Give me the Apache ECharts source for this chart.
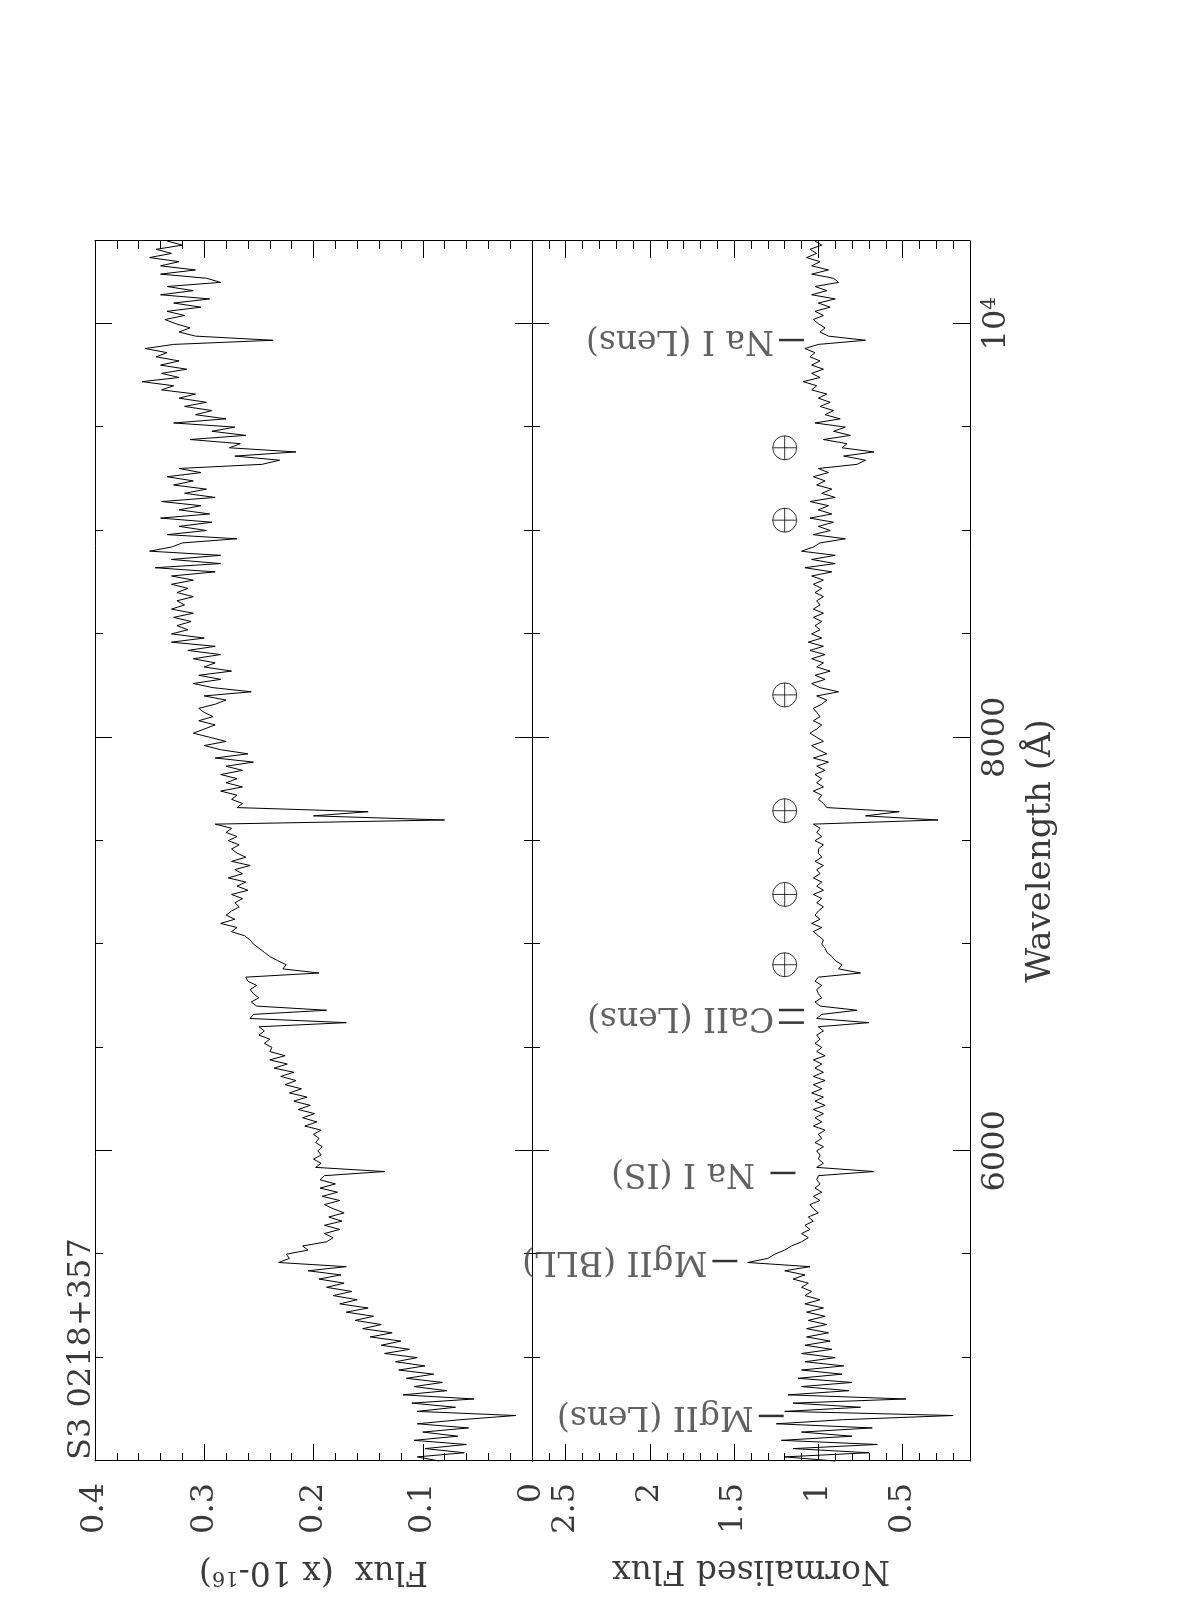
<!DOCTYPE html>
<html>
<head>
<meta charset="utf-8">
<title>S3 0218+357</title>
<script src="https://cdn.jsdelivr.net/npm/echarts@6/dist/echarts.min.js"></script>
<style>
    html, body { margin: 0; padding: 0; width: 1196px; height: 1600px; overflow: hidden; background: #fff; }
    /* the figure is drawn landscape and turned a quarter turn, like the printed page */
    #spectrum-chart {
        position: absolute; left: 0; top: 0;
        width: 1600px; height: 1196px;
        transform-origin: 0 0;
        transform: translate(0, 1600px) rotate(-90deg);
    }
</style>
</head>
<body>
<div id="spectrum-chart"></div>
<script>
// wavelength sampling of the spectrum (Angstrom)
var LAMBDA_START = 4500;
var LAMBDA_STEP = 20;
var WAVELENGTH_MIN = 4500;
var WAVELENGTH_MAX = 10400;

// flux in units of 1e-16, one value per sample from 4500 A
var fluxValues = [
    0.085, 0.105, 0.062, 0.098, 0.060, 0.108, 0.068, 0.100, 0.058, 0.105,
    0.065, 0.015, 0.105, 0.070, 0.110, 0.053, 0.118, 0.078, 0.108, 0.082,
    0.115, 0.090, 0.122, 0.098, 0.125, 0.105, 0.135, 0.112, 0.138, 0.120,
    0.148, 0.128, 0.155, 0.138, 0.162, 0.145, 0.170, 0.150, 0.176, 0.160,
    0.182, 0.165, 0.188, 0.172, 0.195, 0.175, 0.205, 0.170, 0.232, 0.222,
    0.225, 0.205, 0.210, 0.188, 0.182, 0.190, 0.176, 0.190, 0.174, 0.186,
    0.172, 0.182, 0.190, 0.176, 0.192, 0.178, 0.194, 0.180, 0.194, 0.190,
    0.135, 0.198, 0.193, 0.200, 0.193, 0.196, 0.192, 0.198, 0.195, 0.200,
    0.193, 0.208, 0.197, 0.210, 0.199, 0.214, 0.203, 0.218, 0.206, 0.222,
    0.211, 0.226, 0.216, 0.230, 0.218, 0.236, 0.224, 0.240, 0.226, 0.240,
    0.238, 0.245, 0.240, 0.250, 0.245, 0.250, 0.170, 0.258, 0.255, 0.188,
    0.252, 0.257, 0.250, 0.255, 0.258, 0.252, 0.260, 0.262, 0.195, 0.228,
    0.225, 0.233, 0.240, 0.245, 0.250, 0.255, 0.258, 0.263, 0.275, 0.270,
    0.285, 0.272, 0.280, 0.275, 0.268, 0.272, 0.265, 0.275, 0.260, 0.270,
    0.262, 0.278, 0.265, 0.272, 0.258, 0.275, 0.262, 0.270, 0.275, 0.268,
    0.278, 0.270, 0.280, 0.275, 0.290, 0.080, 0.200, 0.150, 0.270, 0.265,
    0.275, 0.270, 0.285, 0.265, 0.280, 0.270, 0.285, 0.265, 0.280, 0.255,
    0.290, 0.260, 0.285, 0.300, 0.280, 0.295, 0.310, 0.300, 0.290, 0.305,
    0.292, 0.300, 0.305, 0.290, 0.280, 0.300, 0.257, 0.292, 0.310, 0.285,
    0.305, 0.275, 0.300, 0.290, 0.310, 0.285, 0.315, 0.290, 0.330, 0.300,
    0.330, 0.315, 0.325, 0.312, 0.328, 0.310, 0.330, 0.318, 0.325, 0.310,
    0.325, 0.315, 0.330, 0.310, 0.330, 0.290, 0.345, 0.285, 0.330, 0.285,
    0.350, 0.330, 0.320, 0.270, 0.334, 0.298, 0.323, 0.293, 0.340, 0.295,
    0.323, 0.303, 0.339, 0.290, 0.318, 0.298, 0.328, 0.310, 0.334, 0.303,
    0.323, 0.247, 0.231, 0.272, 0.216, 0.277, 0.267, 0.313, 0.262, 0.293,
    0.272, 0.328, 0.280, 0.308, 0.293, 0.318, 0.298, 0.323, 0.308, 0.339,
    0.328, 0.357, 0.323, 0.339, 0.316, 0.340, 0.323, 0.344, 0.334, 0.354,
    0.328, 0.237, 0.308, 0.323, 0.313, 0.326, 0.336, 0.318, 0.334, 0.303,
    0.328, 0.295, 0.340, 0.310, 0.334, 0.285, 0.298, 0.340, 0.308, 0.340,
    0.323, 0.350, 0.330, 0.344, 0.320, 0.334
];

// normalised flux, same sampling
var normFluxValues = [
    0.90, 1.20, 0.70, 1.15, 0.65, 1.22, 0.80, 1.10, 0.68, 1.25,
    0.85, 0.20, 1.20, 0.75, 1.15, 0.48, 1.18, 0.82, 1.10, 0.80,
    1.12, 0.86, 1.10, 0.85, 1.08, 0.90, 1.10, 0.92, 1.08, 0.93,
    1.07, 0.94, 1.07, 0.95, 1.06, 0.96, 1.07, 0.97, 1.08, 0.99,
    1.08, 1.04, 1.10, 1.06, 1.15, 1.08, 1.20, 1.05, 1.42, 1.30,
    1.26, 1.20, 1.16, 1.10, 1.06, 1.10, 1.05, 1.08, 1.03, 1.06,
    1.00, 1.03, 1.05, 0.99, 1.03, 0.98, 1.02, 0.99, 1.01, 1.00,
    0.67, 1.01, 0.97, 1.00, 0.99, 1.01, 0.97, 1.02, 0.98, 1.00,
    0.96, 1.03, 0.98, 1.02, 0.97, 1.03, 0.96, 1.02, 0.97, 1.04,
    0.98, 1.03, 0.96, 1.03, 0.97, 1.02, 0.98, 1.03, 0.96, 1.01,
    0.98, 1.02, 0.99, 1.01, 0.97, 1.00, 0.70, 1.01, 0.98, 0.77,
    0.99, 1.02, 0.98, 1.00, 1.01, 0.98, 1.02, 1.00, 0.75, 0.88,
    0.86, 0.90, 0.92, 0.95, 0.96, 0.98, 0.97, 1.00, 1.03, 0.98,
    1.04, 0.99, 1.02, 1.00, 0.97, 1.01, 0.98, 1.03, 0.97, 1.01,
    0.98, 1.03, 0.99, 1.01, 0.97, 1.02, 0.98, 1.00, 1.00, 0.97,
    1.02, 0.98, 1.01, 0.99, 1.03, 0.29, 0.72, 0.52, 0.95, 0.97,
    1.00, 0.98, 1.03, 0.97, 1.01, 0.98, 1.02, 0.96, 1.01, 0.94,
    1.03, 0.95, 1.00, 1.04, 0.97, 1.01, 1.05, 1.01, 0.98, 1.03,
    0.99, 1.01, 1.03, 0.98, 0.95, 1.01, 0.88, 0.99, 1.04, 0.96,
    1.02, 0.93, 1.01, 0.97, 1.04, 0.96, 1.05, 0.97, 1.06, 0.98,
    1.04, 0.99, 1.02, 0.98, 1.03, 0.97, 1.03, 0.99, 1.01, 0.97,
    1.02, 0.98, 1.03, 0.97, 1.04, 0.92, 1.08, 0.90, 1.04, 0.90,
    1.10, 1.03, 0.99, 0.84, 1.03, 0.93, 1.00, 0.91, 1.05, 0.92,
    1.00, 0.94, 1.05, 0.90, 0.98, 0.92, 1.01, 0.96, 1.03, 0.94,
    1.00, 0.77, 0.72, 0.85, 0.67, 0.86, 0.83, 0.97, 0.81, 0.91,
    0.84, 1.02, 0.87, 0.96, 0.91, 0.99, 0.93, 1.00, 0.95, 1.04,
    1.01, 1.09, 0.99, 1.04, 0.97, 1.04, 0.99, 1.05, 1.02, 1.08,
    1.00, 0.72, 0.94, 0.99, 0.96, 1.00, 1.03, 0.97, 1.02, 0.93,
    1.00, 0.90, 1.04, 0.95, 1.02, 0.88, 0.91, 1.04, 0.94, 1.04,
    0.99, 1.07, 1.01, 1.05, 0.98, 1.02
];

// tick labels
var wavelengthMajorTicks = [6000, 8000, 10000];
var normMajorTicks = [0.5, 1, 1.5, 2, 2.5];

// identified lines in the normalised panel
var lineNames = ['MgII (Lens)', 'MgII (BLL)', ' Na I (IS)', 'CaII (Lens)', 'Na I (Lens)'];
var lineWavelengths = [4718, 5467, 5893, 6650, 9921];
var lineTickLevels = [1.28, 1.555, 1.21, 1.16, 1.16];
var caiiDoublet = [6620, 6681];

// atmospheric bands
var telluricWavelengths = [6900, 7240, 7645, 8205, 9050, 9400];
var TELLURIC_LEVEL = 1.2;

var FONT = '"DejaVu Serif", "Liberation Serif", serif';
var TEXT_COLOR = '#3a3a3a';

function toPairs(values) {
    return values.map(function (v, i) { return [LAMBDA_START + i * LAMBDA_STEP, v]; });
}

function wavelengthAxis(gridIndex, position, isMajor, withLabels) {
    var axis = {
        type: 'value',
        gridIndex: gridIndex,
        position: position,
        min: WAVELENGTH_MIN,
        max: WAVELENGTH_MAX,
        axisLine: {show: isMajor, onZero: false, lineStyle: {color: '#000', width: 1}},
        axisTick: {show: true, inside: true, length: isMajor ? 17 : 8, lineStyle: {color: '#000', width: 1}},
        axisLabel: {show: false},
        splitLine: {show: false}
    };
    if (isMajor) {
        axis.axisTick.customValues = wavelengthMajorTicks;
    } else {
        axis.interval = 500;
    }
    if (withLabels) {
        axis.axisLabel = {
            show: true,
            customValues: wavelengthMajorTicks,
            margin: 10,
            color: TEXT_COLOR,
            fontFamily: FONT,
            fontSize: 32,
            formatter: function (v) { return v === 10000 ? '10{sup|4}' : String(v); },
            rich: {
                sup: {fontFamily: FONT, fontSize: 20, color: TEXT_COLOR, verticalAlign: 'top', padding: [0, 0, 14, 0]}
            }
        };
        axis.name = 'Wavelength (Å)';
        axis.nameLocation = 'middle';
        axis.nameGap = 54;
        axis.nameTextStyle = {fontFamily: FONT, fontSize: 34, color: TEXT_COLOR};
    }
    return axis;
}

function fluxAxis(position) {
    var axis = {
        type: 'value',
        gridIndex: 0,
        position: position,
        min: 0,
        max: 0.4,
        interval: 0.1,
        axisLine: {show: true, onZero: false, lineStyle: {color: '#000', width: 1}},
        axisTick: {show: true, inside: true, length: 17, lineStyle: {color: '#000', width: 1}},
        minorTick: {show: true, splitNumber: 5, length: 8, lineStyle: {color: '#000', width: 1}},
        axisLabel: {show: false},
        splitLine: {show: false}
    };
    if (position === 'left') {
        axis.axisLabel = {show: true, margin: 22, color: TEXT_COLOR, fontFamily: FONT, fontSize: 32};
        axis.name = 'Flux  (x 10-{sup|16})';
        axis.nameLocation = 'middle';
        axis.nameRotate = 90;
        axis.nameGap = 92;
        axis.nameTextStyle = {
            fontFamily: FONT, fontSize: 33, color: TEXT_COLOR,
            rich: {sup: {fontFamily: FONT, fontSize: 21, color: TEXT_COLOR, verticalAlign: 'top', padding: [0, 0, 14, 0]}}
        };
    }
    return axis;
}

function normAxis(position, isMajor) {
    var axis = {
        type: 'value',
        gridIndex: 1,
        position: position,
        min: 0.1,
        max: 2.7,
        axisLine: {show: isMajor, onZero: false, lineStyle: {color: '#000', width: 1}},
        axisTick: {show: true, inside: true, length: isMajor ? 17 : 8, lineStyle: {color: '#000', width: 1}},
        axisLabel: {show: false},
        splitLine: {show: false}
    };
    if (isMajor) {
        axis.axisTick.customValues = normMajorTicks;
    } else {
        axis.interval = 0.1;
    }
    if (isMajor && position === 'left') {
        axis.axisLabel = {show: true, customValues: normMajorTicks, margin: 22, color: TEXT_COLOR, fontFamily: FONT, fontSize: 32};
        axis.name = 'Normalised Flux';
        axis.nameLocation = 'middle';
        axis.nameRotate = 90;
        axis.nameGap = 92;
        axis.nameTextStyle = {fontFamily: FONT, fontSize: 33, color: TEXT_COLOR};
    }
    return axis;
}

// dashes marking each identified line (CaII gets one per doublet member)
var lineDashes = [];
var lineLabels = [];
for (var i = 0; i < lineNames.length; i++) {
    if (lineNames[i].indexOf('CaII') === 0) {
        caiiDoublet.forEach(function (w) { lineDashes.push([w, lineTickLevels[i]]); });
    } else {
        lineDashes.push([lineWavelengths[i], lineTickLevels[i]]);
    }
    lineLabels.push({value: [lineWavelengths[i], lineTickLevels[i]], name: lineNames[i]});
}

var spectrumChart = echarts.init(document.getElementById('spectrum-chart'), null, {renderer: 'canvas'});

var option = {
    animation: false,
    backgroundColor: '#fff',
    grid: [
        {left: 139, right: 241, top: 95, height: 437},
        {left: 139, right: 241, top: 532, height: 438}
    ],
    graphic: [{
        type: 'text',
        left: 140,
        top: 66,
        style: {text: 'S3 0218+357', fontFamily: FONT, fontSize: 32, fill: TEXT_COLOR}
    }],
    xAxis: [
        wavelengthAxis(0, 'bottom', true, false),
        wavelengthAxis(0, 'bottom', false, false),
        wavelengthAxis(0, 'top', true, false),
        wavelengthAxis(0, 'top', false, false),
        wavelengthAxis(1, 'bottom', true, true),
        wavelengthAxis(1, 'bottom', false, false),
        wavelengthAxis(1, 'top', true, false),
        wavelengthAxis(1, 'top', false, false)
    ],
    yAxis: [
        fluxAxis('left'),
        fluxAxis('right'),
        normAxis('left', true),
        normAxis('left', false),
        normAxis('right', true),
        normAxis('right', false)
    ],
    series: [
        {
            name: 'flux',
            type: 'line',
            xAxisIndex: 0,
            yAxisIndex: 0,
            data: toPairs(fluxValues),
            showSymbol: false,
            lineStyle: {color: '#000', width: 1},
            silent: true
        },
        {
            name: 'normalised',
            type: 'line',
            xAxisIndex: 4,
            yAxisIndex: 2,
            data: toPairs(normFluxValues),
            showSymbol: false,
            lineStyle: {color: '#000', width: 1},
            silent: true
        },
        {
            name: 'line dashes',
            type: 'scatter',
            xAxisIndex: 4,
            yAxisIndex: 2,
            data: lineDashes,
            symbol: 'rect',
            symbolSize: [2.5, 25],
            itemStyle: {color: '#000'},
            silent: true
        },
        {
            name: 'line labels',
            type: 'scatter',
            xAxisIndex: 4,
            yAxisIndex: 2,
            data: lineLabels,
            symbol: 'rect',
            symbolSize: [1, 25],
            itemStyle: {color: 'rgba(0,0,0,0)'},
            label: {
                show: true,
                position: 'top',
                distance: 5,
                rotate: 90,
                align: 'left',
                verticalAlign: 'middle',
                formatter: '{b}',
                fontFamily: FONT,
                fontSize: 33,
                color: TEXT_COLOR
            },
            silent: true
        },
        {
            name: 'telluric',
            type: 'scatter',
            xAxisIndex: 4,
            yAxisIndex: 2,
            data: telluricWavelengths.map(function (w) { return [w, TELLURIC_LEVEL]; }),
            symbol: 'path://M12 0A12 12 0 1 1 12 24A12 12 0 1 1 12 0ZM0 12L24 12M12 0L12 24',
            symbolSize: 24,
            itemStyle: {color: 'rgba(0,0,0,0)', borderColor: '#000', borderWidth: 1},
            silent: true
        }
    ]
};

spectrumChart.setOption(option);
</script>
</body>
</html>
